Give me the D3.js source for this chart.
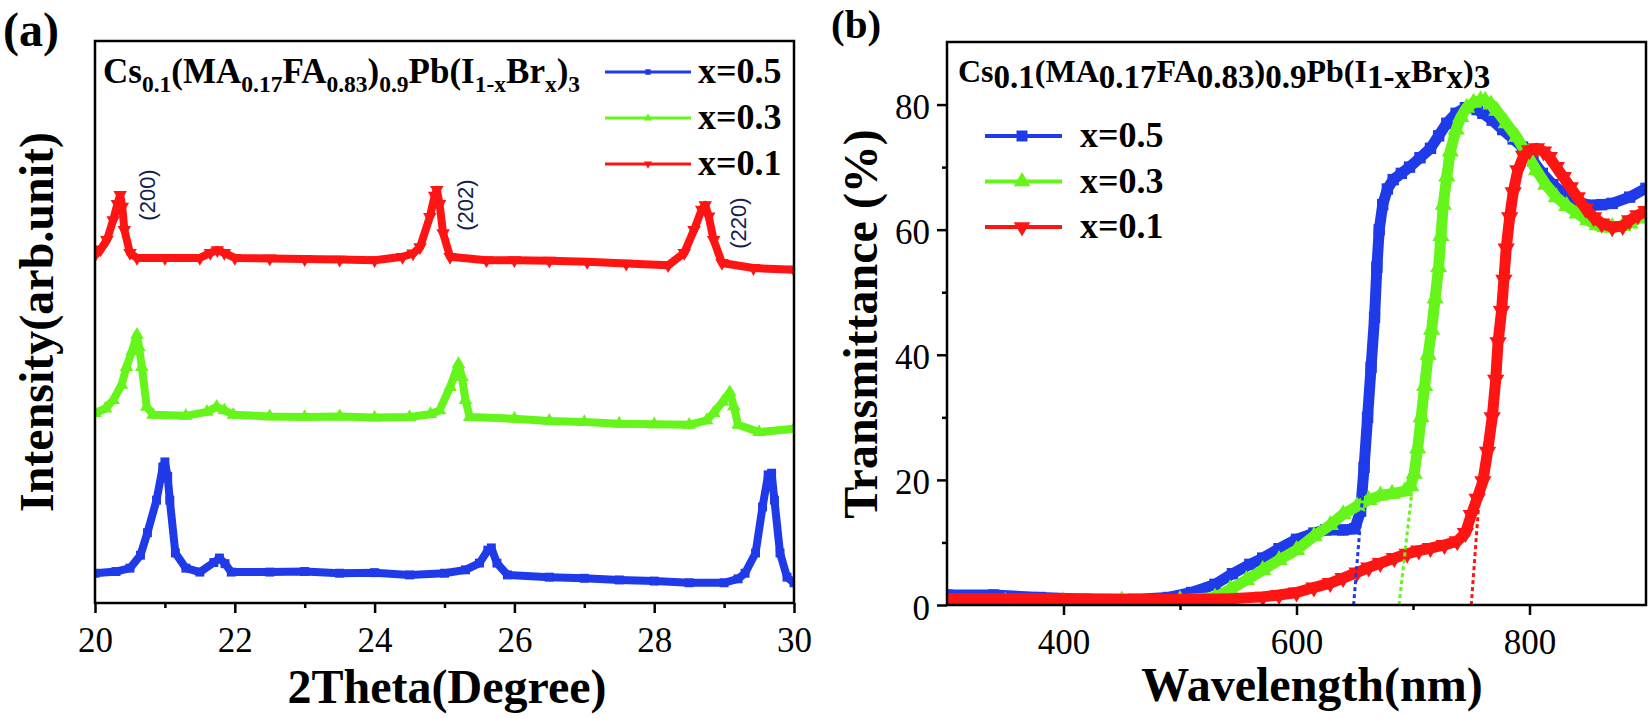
<!DOCTYPE html>
<html>
<head>
<meta charset="utf-8">
<script src="https://cdn.jsdelivr.net/npm/d3@7"></script>
<style>
  body { margin: 0; background: #fff; }
  svg text { font-family: "Liberation Serif", "Times New Roman", serif; }
</style>
</head>
<body>
<script>

// ---- panel (a): XRD, 2theta (degree) vs intensity (a.u., curves stacked) ----
var xrd_x05 = [[20.0,5.3],[20.3,5.6],[20.5,6.2],[20.65,8.5],[20.75,12.5],[20.88,18.3],[20.97,24.2],[21.0,25.1],[21.04,22.5],
  [21.07,18.3],[21.15,8.9],[21.3,6.2],[21.5,5.5],[21.7,7.2],[21.78,8.0],[21.86,7.0],[21.95,5.5],[22.5,5.5],[23.0,5.6],
  [23.5,5.3],[24.0,5.4],[24.5,5.0],[25.0,5.3],[25.3,5.9],[25.5,7.1],[25.62,9.4],[25.67,9.8],[25.75,7.1],[25.9,5.0],
  [26.5,4.6],[27.0,4.4],[27.5,4.1],[28.0,3.9],[28.5,3.6],[29.0,3.6],[29.2,4.3],[29.3,5.3],[29.45,8.9],[29.55,17.1],
  [29.63,22.8],[29.68,23.1],[29.72,18.3],[29.8,8.9],[29.9,4.6],[30.0,3.6]];
var xrd_x03 = [[20.0,33.8],[20.15,34.6],[20.26,36.1],[20.38,38.8],[20.45,42.0],[20.53,44.8],[20.6,47.7],[20.63,45.5],
  [20.67,42.0],[20.74,34.9],[20.83,33.5],[21.3,33.3],[21.6,34.0],[21.74,34.9],[21.85,34.3],[21.98,33.5],[22.5,33.2],
  [23.0,33.1],[23.5,33.2],[24.0,33.0],[24.5,33.1],[24.8,33.6],[24.93,34.3],[25.08,38.4],[25.2,42.5],[25.25,40.2],
  [25.3,36.1],[25.36,33.1],[26.0,32.8],[26.5,32.4],[27.0,32.2],[27.5,31.9],[28.0,31.8],[28.5,31.7],[28.75,32.5],
  [28.85,33.8],[28.98,35.8],[29.08,37.5],[29.14,35.0],[29.2,31.7],[29.5,30.4],[30.0,31.0]];
var xrd_x01 = [[20.0,61.9],[20.08,62.9],[20.17,64.6],[20.26,68.1],[20.32,71.0],[20.36,72.6],[20.39,70.5],[20.42,66.4],
  [20.5,62.3],[20.6,61.4],[21.0,61.4],[21.5,61.4],[21.65,62.3],[21.75,62.8],[21.85,62.3],[22.0,61.4],[22.5,61.3],
  [23.0,61.2],[23.5,61.1],[24.0,61.0],[24.4,61.6],[24.55,62.2],[24.65,63.3],[24.79,68.7],[24.86,72.5],[24.89,73.5],
  [24.93,71.0],[24.98,65.8],[25.08,61.6],[25.6,61.0],[26.0,61.0],[26.5,60.9],[27.04,60.7],[27.6,60.4],[28.2,60.1],
  [28.43,62.3],[28.57,66.4],[28.68,70.0],[28.73,70.8],[28.78,68.8],[28.85,64.6],[28.97,60.5],[29.42,59.6],[30.0,59.3]];
var xrd_peaks = [[20.74,72.6,"(200)"],[25.29,70.8,"(202)"],[29.2,67.6,"(220)"]];
var xrd_major_ticks = [20,22,24,26,28,30];
var xrd_minor_ticks = [21,23,25,27,29];

// ---- panel (b): transmittance (%) vs wavelength (nm) ----
var uv_x05 = [[300,1.6],[340,1.6],[380,1.2],[420,0.9],[460,0.9],[490,1.2],[510,2.0],[530,3.3],[545,5.0],[560,6.5],
  [571,7.5],[585,9.0],[600,10.5],[615,11.5],[625,12.0],[640,12.0],[650,12.2],[655,15],[658,22],[661,30],[664,38],
  [667,46],[669,54],[671,60],[674,64],[678,66.5],[683,68],[690,69],[697,70],[706,71.5],[715,73],[722,75],[729,77],
  [737,78.6],[745,79.5],[750,79.6],[755,79.2],[760,78.6],[768,77.5],[777,76],[786,74.5],[794,73.2],[803,71],
  [811,69],[820,67.2],[829,65.8],[840,64.5],[852,63.9],[862,64],[871,64.2],[886,65.2],[900,66.6]];
var uv_x03 = [[300,0.5],[350,0.5],[400,0.6],[450,0.7],[500,0.8],[530,1.2],[543,2.5],[557,4.0],[571,5.6],[585,7.2],
  [600,8.8],[615,11],[629,12.8],[640,14.5],[652,15.8],[662,16.8],[672,17.5],[682,17.8],[693,18.2],[698,19],[701,21],
  [704,25],[707,30],[710,35],[713,40],[716,44],[719,49],[722,54],[724,59],[726,64],[729,68.5],[732,72.5],[737,76],
  [741,78],[746,79.5],[752,80.3],[758,80.7],[762,80.6],[767,80],[772,79],[780,77],[789,74.8],[797,72.3],[806,69.5],
  [814,67.2],[823,65.2],[832,63.8],[841,62.6],[850,61.5],[858,60.7],[865,60.4],[871,60.4],[880,60.6],[886,61],
  [893,61.8],[900,62.6]];
var uv_x01 = [[300,1.0],[350,1.0],[400,1.0],[450,0.9],[500,0.9],[543,1.0],[571,1.3],[585,1.6],[600,2.0],[615,2.8],
  [629,3.5],[640,4.3],[652,5.2],[662,6.0],[672,6.7],[684,7.5],[695,8.2],[705,8.7],[715,9.1],[727,9.6],[738,10.2],
  [745,11.5],[750,14.4],[755,17],[760,19.8],[764,24.5],[768,30],[771,36],[773,42],[776,47],[778,52],[780,57],
  [783,62],[786,66],[790,69.5],[795,71.8],[800,72.7],[806,73],[812,72.5],[817,71.6],[823,70],[829,68.4],[835,66.8],
  [841,65.2],[848,63.4],[855,62],[862,61],[871,60.4],[880,60.6],[886,61.5],[893,62.3],[900,63]];
// dotted band-edge extrapolation lines
var uv_edges = [[[649,0],[657,18]], [[688,0],[699,18]], [[750,0],[758,20]]];
var uv_major_xticks = [400,600,800];
var uv_minor_xticks = [500,700];
var uv_major_yticks = [0,20,40,60,80];
var uv_minor_yticks = [10,30,50,70];

var series_names = ["x=0.5","x=0.3","x=0.1"];
var series_colors = ["#1f3ae8","#66f51a","#ff1414"];
var series_symbols = ["square","up","down"];

var svg = d3.select('body').append('svg')
      .attr('width', 1650)
      .attr('height', 718);

function symbol_path(kind, size) {
    if (kind == "square") {
        return d3.symbol().type(d3.symbolSquare).size(size)();
    }
    return d3.symbol().type(d3.symbolTriangle).size(size)();
}

function symbol_transform(kind, x, y) {
    var t = 'translate(' + x + ',' + y + ')';
    if (kind == "down") { t = t + ' rotate(180)'; }
    return t;
}

// d3.axis puts font-family="sans-serif" on its group, so restyle after the call
function style_axis(g) {
    g.attr('font-family', 'Liberation Serif');
    g.select('.domain').remove();
    g.selectAll('.tick line').attr('stroke', '#000').attr('stroke-width', 2.5);
    g.selectAll('.tick text')
        .style('font-family', "'Liberation Serif'")
        .attr('font-size', 35)
        .attr('fill', '#000');
}

function add_title(x, y, parts, main_size, sub_size, sub_shift) {
    var t = svg.append('text').attr('x', x).attr('y', y)
        .attr('font-weight', 'bold').attr('fill', '#000');
    var shifted = false;
    parts.forEach(function (p) {
        var ts = t.append('tspan').text(p[0]);
        if (p[1]) {
            ts.attr('font-size', sub_size).attr('dy', shifted ? 0 : sub_shift);
            shifted = true;
        } else {
            ts.attr('font-size', main_size).attr('dy', shifted ? -sub_shift : 0);
            shifted = false;
        }
    });
}

var formula = [["Cs",0],["0.1",1],["(MA",0],["0.17",1],["FA",0],["0.83",1],[")",0],["0.9",1],
               ["Pb(I",0],["1-x",1],["Br",0],["x",1],[")",0],["3",1]];

// ================= panel (a) =================
var xa = d3.scaleLinear().domain([20, 30]).range([95, 794]);
var ya = d3.scaleLinear().domain([0, 100]).range([603, 41]);

svg.append('clipPath').attr('id', 'clip_a').append('rect')
    .attr('x', 95).attr('y', 41).attr('width', 699).attr('height', 562);

var line_a = d3.line()
    .x(function (d) { return xa(d[0]); })
    .y(function (d) { return ya(d[1]); });

var xrd_data = [xrd_x05, xrd_x03, xrd_x01];
var ga = svg.append('g').attr('clip-path', 'url(#clip_a)');
xrd_data.forEach(function (s, i) {
    ga.append('path').datum(s)
        .attr('d', line_a)
        .attr('fill', 'none')
        .attr('stroke', series_colors[i])
        .attr('stroke-width', 8)
        .attr('stroke-linejoin', 'round');
    ga.selectAll('.mk' + i).data(s).enter().append('path')
        .attr('d', symbol_path(series_symbols[i], 80))
        .attr('transform', function (d) { return symbol_transform(series_symbols[i], xa(d[0]), ya(d[1])); })
        .attr('fill', series_colors[i]);
});

svg.selectAll('.peak').data(xrd_peaks).enter().append('text')
    .attr('transform', function (d) { return 'translate(' + (xa(d[0]) + 8) + ',' + ya(d[1]) + ') rotate(-90)'; })
    .attr('text-anchor', 'middle')
    .attr('font-size', 22)
    .attr('fill', '#14204a')
    .style('font-family', '"Liberation Sans", Arial, sans-serif')
    .text(function (d) { return d[2]; });

var ax_a_minor = svg.append('g').attr('transform', 'translate(0,603)')
    .call(d3.axisBottom(xa).tickValues(xrd_minor_ticks).tickSize(5).tickFormat(''));
style_axis(ax_a_minor);
var ax_a = svg.append('g').attr('transform', 'translate(0,603)')
    .call(d3.axisBottom(xa).tickValues(xrd_major_ticks).tickSize(10).tickPadding(14));
style_axis(ax_a);

svg.append('rect').attr('x', 95).attr('y', 41).attr('width', 699).attr('height', 562)
    .attr('fill', 'none').attr('stroke', '#000').attr('stroke-width', 2.5);

add_title(103, 83, formula, 35, 23.5, 9);

series_names.forEach(function (name, i) {
    var ly = 72 + i * 46;
    svg.append('line').attr('x1', 605).attr('x2', 691).attr('y1', ly).attr('y2', ly)
        .attr('stroke', series_colors[i]).attr('stroke-width', 3);
    svg.append('path').attr('d', symbol_path(series_symbols[i], 30))
        .attr('transform', symbol_transform(series_symbols[i], 648, ly))
        .attr('fill', series_colors[i]);
    svg.append('text').attr('x', 698).attr('y', ly + 11)
        .attr('font-size', 36).attr('font-weight', 'bold').text(name);
});

svg.append('text').attr('transform', 'translate(53,322) rotate(-90)')
    .attr('text-anchor', 'middle').attr('font-size', 48).attr('font-weight', 'bold')
    .text('Intensity(arb.unit)');
svg.append('text').attr('x', 447).attr('y', 703)
    .attr('text-anchor', 'middle').attr('font-size', 48).attr('font-weight', 'bold')
    .text('2Theta(Degree)');
svg.append('text').attr('x', 3).attr('y', 46)
    .attr('font-size', 48).attr('font-weight', 'bold').text('(a)');

// ================= panel (b) =================
var xb = d3.scaleLinear().domain([300, 900]).range([947, 1646]);
var yb = d3.scaleLinear().domain([0, 90]).range([605, 42]);

svg.append('clipPath').attr('id', 'clip_b').append('rect')
    .attr('x', 947).attr('y', 42).attr('width', 699).attr('height', 563);

var line_b = d3.line()
    .x(function (d) { return xb(d[0]); })
    .y(function (d) { return yb(d[1]); });

var uv_data = [uv_x05, uv_x03, uv_x01];
var gb = svg.append('g').attr('clip-path', 'url(#clip_b)');
uv_data.forEach(function (s, i) {
    gb.append('path').datum(s)
        .attr('d', line_b)
        .attr('fill', 'none')
        .attr('stroke', series_colors[i])
        .attr('stroke-width', 11)
        .attr('stroke-linejoin', 'round');
    gb.selectAll('.mkb' + i).data(s).enter().append('path')
        .attr('d', symbol_path(series_symbols[i], 130))
        .attr('transform', function (d) { return symbol_transform(series_symbols[i], xb(d[0]), yb(d[1])); })
        .attr('fill', series_colors[i]);
});
uv_edges.forEach(function (e, i) {
    gb.append('path').datum(e)
        .attr('d', line_b)
        .attr('fill', 'none')
        .attr('stroke', series_colors[i])
        .attr('stroke-width', 3)
        .attr('stroke-dasharray', '4 3');
});

var ax_b_minor = svg.append('g').attr('transform', 'translate(0,605)')
    .call(d3.axisBottom(xb).tickValues(uv_minor_xticks).tickSize(5).tickFormat(''));
style_axis(ax_b_minor);
var ax_b = svg.append('g').attr('transform', 'translate(0,605)')
    .call(d3.axisBottom(xb).tickValues(uv_major_xticks).tickSize(10).tickPadding(14));
style_axis(ax_b);

var ay_b_minor = svg.append('g').attr('transform', 'translate(947,0)')
    .call(d3.axisLeft(yb).tickValues(uv_minor_yticks).tickSize(5).tickFormat(''));
style_axis(ay_b_minor);
var ay_b = svg.append('g').attr('transform', 'translate(947,0)')
    .call(d3.axisLeft(yb).tickValues(uv_major_yticks).tickSize(10).tickPadding(7));
style_axis(ay_b);
ay_b.selectAll('.tick text').attr('dy', '0.4em');

svg.append('rect').attr('x', 947).attr('y', 42).attr('width', 699).attr('height', 563)
    .attr('fill', 'none').attr('stroke', '#000').attr('stroke-width', 2.5);

add_title(958, 82, formula, 32, 33, 6);

series_names.forEach(function (name, i) {
    var ly = 136 + i * 45.5;
    svg.append('line').attr('x1', 985).attr('x2', 1062).attr('y1', ly).attr('y2', ly)
        .attr('stroke', series_colors[i]).attr('stroke-width', 4);
    svg.append('path').attr('d', symbol_path(series_symbols[i], 120))
        .attr('transform', symbol_transform(series_symbols[i], 1022, ly))
        .attr('fill', series_colors[i]);
    svg.append('text').attr('x', 1080).attr('y', ly + 11)
        .attr('font-size', 36).attr('font-weight', 'bold').text(name);
});

svg.append('text').attr('transform', 'translate(877,324) rotate(-90)')
    .attr('text-anchor', 'middle').attr('font-size', 48).attr('font-weight', 'bold')
    .text('Transmittance (%)');
svg.append('text').attr('x', 1312).attr('y', 701)
    .attr('text-anchor', 'middle').attr('font-size', 48).attr('font-weight', 'bold')
    .text('Wavelength(nm)');
svg.append('text').attr('x', 831).attr('y', 38)
    .attr('font-size', 41).attr('font-weight', 'bold').text('(b)');

</script>
</body>
</html>
